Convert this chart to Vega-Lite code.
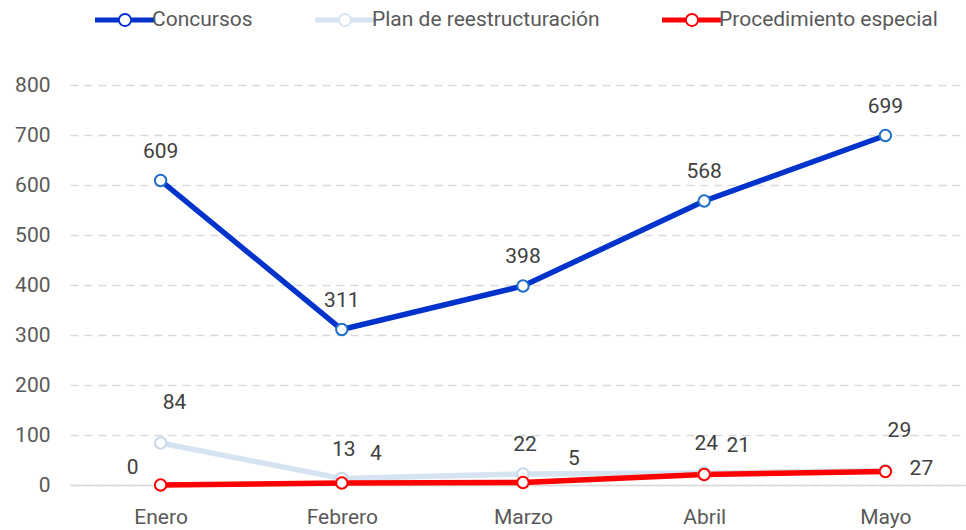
{
  "$schema": "https://vega.github.io/schema/vega-lite/v6.json",
  "width": 906,
  "height": 400,
  "autosize": {"type": "none"},
  "padding": {"left": 70, "top": 85, "right": 0, "bottom": 45},
  "background": "white",
  "config": {
    "view": {"stroke": null},
    "font": "Roboto",
    "text": {"font": "Roboto"}
  },
  "data": {
    "values": [
      {"mes": "Enero", "serie": "Concursos", "valor": 609},
      {"mes": "Febrero", "serie": "Concursos", "valor": 311},
      {"mes": "Marzo", "serie": "Concursos", "valor": 398},
      {"mes": "Abril", "serie": "Concursos", "valor": 568},
      {"mes": "Mayo", "serie": "Concursos", "valor": 699},
      {"mes": "Enero", "serie": "Plan de reestructuración", "valor": 84},
      {"mes": "Febrero", "serie": "Plan de reestructuración", "valor": 13},
      {"mes": "Marzo", "serie": "Plan de reestructuración", "valor": 22},
      {"mes": "Abril", "serie": "Plan de reestructuración", "valor": 24},
      {"mes": "Mayo", "serie": "Plan de reestructuración", "valor": 29},
      {"mes": "Enero", "serie": "Procedimiento especial", "valor": 0},
      {"mes": "Febrero", "serie": "Procedimiento especial", "valor": 4},
      {"mes": "Marzo", "serie": "Procedimiento especial", "valor": 5},
      {"mes": "Abril", "serie": "Procedimiento especial", "valor": 21},
      {"mes": "Mayo", "serie": "Procedimiento especial", "valor": 27}
    ]
  },
  "encoding": {
    "x": {
      "field": "mes", "type": "nominal",
      "sort": ["Enero", "Febrero", "Marzo", "Abril", "Mayo"],
      "scale": {"type": "point", "padding": 0.5},
      "axis": {
        "title": null, "labelAngle": 0, "labelFont": "Roboto", "labelFontSize": 21,
        "labelColor": "#595959", "labelPadding": 21, "ticks": false,
        "domainColor": "#D9D9D9", "domainWidth": 1.5, "grid": false
      }
    },
    "y": {
      "field": "valor", "type": "quantitative",
      "scale": {"domain": [0, 800]},
      "axis": {
        "title": null, "values": [0, 100, 200, 300, 400, 500, 600, 700, 800],
        "labelFont": "Roboto", "labelFontSize": 21, "labelColor": "#595959",
        "labelPadding": 20, "ticks": false, "domain": false, "labelOverlap": false,
        "gridColor": "#D9D9D9", "gridDash": [8, 6], "gridWidth": 1.5
      }
    }
  },
  "layer": [
    {
      "mark": {"type": "line", "strokeWidth": 5.5},
      "encoding": {
        "color": {
          "field": "serie", "type": "nominal",
          "scale": {
            "domain": ["Concursos", "Plan de reestructuración", "Procedimiento especial"],
            "range": ["#0033CC", "#D6E3F1", "#FF0000"]
          },
          "legend": {
            "title": null, "orient": "none", "direction": "horizontal",
            "legendX": 25, "legendY": -95,
            "symbolType": "M-1,-0.085H-0.21V0.085H-1Z M0.21,-0.085H1V0.085H0.21Z M0.23,0A0.23,0.23 0 1,1 -0.23,0A0.23,0.23 0 1,1 0.23,0Z M0.17,0A0.17,0.17 0 1,0 -0.17,0A0.17,0.17 0 1,0 0.17,0Z",
            "symbolSize": 3600, "symbolStrokeWidth": 0,
            "labelFont": "Roboto", "labelFontSize": 21, "labelColor": "#595959",
            "labelOffset": -3, "labelLimit": 400, "columnPadding": 62, "symbolOpacity": 1,
            "encode": {
              "symbols": {"update": {"fill": {"scale": "color", "field": "value"}, "stroke": {"value": "transparent"}, "opacity": {"value": 1}}}
            }
          }
        }
      }
    },
    {
      "mark": {"type": "point", "filled": true, "fill": "white", "size": 130, "strokeWidth": 2, "opacity": 1},
      "encoding": {
        "stroke": {
          "field": "serie", "type": "nominal", "legend": null,
          "scale": {
            "domain": ["Concursos", "Plan de reestructuración", "Procedimiento especial"],
            "range": ["#1F6FC8", "#C8D7EA", "#FF0000"]
          }
        }
      }
    },
    {
      "transform": [{"filter": "datum.serie === 'Concursos'"}],
      "mark": {"type": "text", "fontSize": 21, "color": "#404040", "dy": -29, "baseline": "middle"},
      "encoding": {"text": {"field": "valor", "type": "quantitative"}}
    },
    {
      "transform": [{"filter": "datum.serie === 'Plan de reestructuración' && (datum.mes === 'Enero' || datum.mes === 'Mayo')"}],
      "mark": {"type": "text", "fontSize": 21, "color": "#404040", "dx": 14, "dy": -40, "baseline": "middle"},
      "encoding": {"text": {"field": "valor", "type": "quantitative"}}
    },
    {
      "transform": [{"filter": "datum.serie === 'Plan de reestructuración' && datum.mes !== 'Enero' && datum.mes !== 'Mayo'"}],
      "mark": {"type": "text", "fontSize": 21, "color": "#404040", "dx": 2, "dy": -29, "baseline": "middle"},
      "encoding": {"text": {"field": "valor", "type": "quantitative"}}
    },
    {
      "transform": [{"filter": "datum.serie === 'Procedimiento especial' && datum.mes === 'Enero'"}],
      "mark": {"type": "text", "fontSize": 21, "color": "#404040", "dx": -28, "dy": -17, "baseline": "middle"},
      "encoding": {"text": {"field": "valor", "type": "quantitative"}}
    },
    {
      "transform": [{"filter": "datum.serie === 'Procedimiento especial' && (datum.mes === 'Febrero' || datum.mes === 'Abril')"}],
      "mark": {"type": "text", "fontSize": 21, "color": "#404040", "dx": 34, "dy": -29, "baseline": "middle"},
      "encoding": {"text": {"field": "valor", "type": "quantitative"}}
    },
    {
      "transform": [{"filter": "datum.serie === 'Procedimiento especial' && datum.mes === 'Marzo'"}],
      "mark": {"type": "text", "fontSize": 21, "color": "#404040", "dx": 51, "dy": -24, "baseline": "middle"},
      "encoding": {"text": {"field": "valor", "type": "quantitative"}}
    },
    {
      "transform": [{"filter": "datum.serie === 'Procedimiento especial' && datum.mes === 'Mayo'"}],
      "mark": {"type": "text", "fontSize": 21, "color": "#404040", "dx": 36, "dy": -3, "baseline": "middle"},
      "encoding": {"text": {"field": "valor", "type": "quantitative"}}
    }
  ]
}
